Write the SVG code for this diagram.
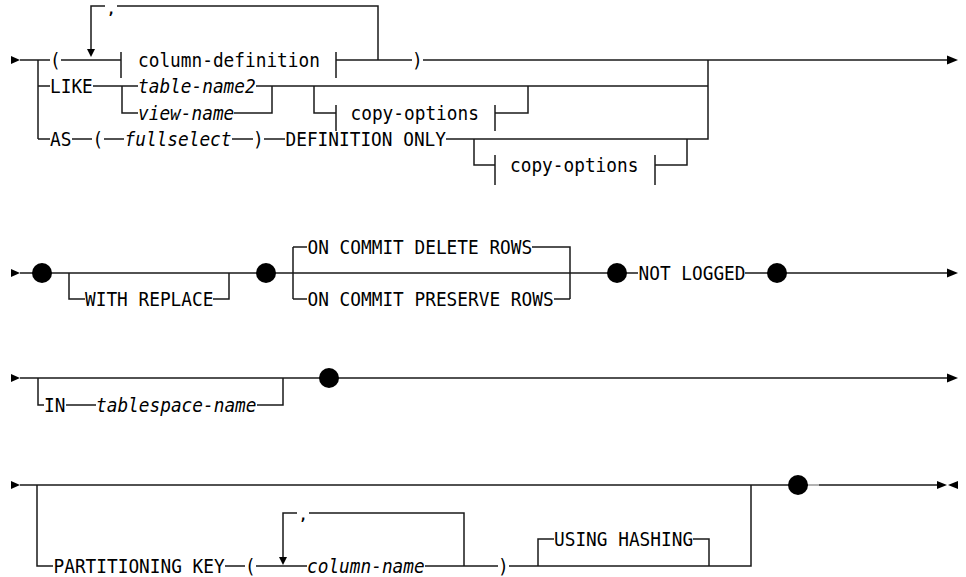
<svg xmlns="http://www.w3.org/2000/svg" xmlns:xlink="http://www.w3.org/1999/xlink" width="966" height="577" viewBox="0 0 966 577">
<style>
.t{font-family:"DejaVu Sans Mono","Liberation Mono",monospace;font-size:19.5px;fill:#000}
.c{font-family:"DejaVu Sans Mono","Liberation Mono",monospace;font-size:14px;font-weight:bold;fill:#000}
.i{font-style:italic}
.l{stroke:#1a1a1a;stroke-width:1.5;fill:none}
.g{stroke:#999;stroke-width:1.5;fill:none}
.k{fill:#000}
</style>
<defs>
<polygon id="sa" class="k" points="0,-4 9,0 0,4"/>
<polygon id="ea" class="k" points="-11,-4.5 0,0 -11,4.5"/>
<polygon id="da" class="k" points="-4,-8 4,-8 0,0"/>
<circle id="dot" class="k" r="10"/>
</defs>
<rect width="966" height="577" fill="#fff"/>

<g id="connectors">
<!-- row 1 -->
<path class="l" d="M20 60 H50 M61 60 H121 M38 60 V139 M38 86 H50 M38 139 H50"/>
<path class="l" d="M91 50 V6 H105 M117 6 H378 V60"/>
<path class="l" d="M336 60 H412 M423 60 H948"/>
<path class="l" d="M93 86 H138 M122 86 V113 H138 M256 86 H708 M234 113 H272 V86"/>
<path class="l" d="M314 86 V113 H336 M495 113 H528 V86"/>
<path class="l" d="M72 139 H92 M104 139 H124 M232 139 H253 M264 139 H285 M446 139 H708 V60"/>
<path class="l" d="M474 139 V165 H495 M655 165 H687 V139"/>
<use xlink:href="#sa" x="11" y="60"/>
<use xlink:href="#da" x="91" y="57"/>
<use xlink:href="#ea" x="958" y="60"/>
<!-- row 2 -->
<path class="l" d="M20 273 H638 M745 273 H948"/>
<path class="l" d="M69 273 V299 H85 M213 299 H229 V273"/>
<path class="l" d="M293 247 V299 M293 247 H307 M532 247 H570 V299 M293 299 H307 M554 299 H570"/>
<use xlink:href="#sa" x="11" y="273"/>
<use xlink:href="#ea" x="958" y="273"/>
<!-- row 3 -->
<path class="l" d="M20 378 H948 M38 378 V405 H44 M66 405 H96 M257 405 H283 V378"/>
<use xlink:href="#sa" x="11" y="378"/>
<use xlink:href="#ea" x="958" y="378"/>
<!-- row 4 -->
<path class="l" d="M20 485 H808 M819 485 H937"/>
<path class="g" d="M808 485 H819"/>
<path class="l" d="M37 485 V566 H53 M225 566 H245 M256 566 H307 M425 566 H498 M509 566 H751 V485"/>
<path class="l" d="M283 557 V513 H297 M309 513 H464 V566"/>
<path class="l" d="M538 566 V539 H554 M693 539 H709 V566"/>
<use xlink:href="#sa" x="11" y="485"/>
<use xlink:href="#da" x="283" y="565"/>
<polygon class="k" points="937,481 947,485 937,489"/>
<polygon class="k" points="958,481 948,485 958,489"/>
</g>

<g id="lparen1"><text class="t" x="50" y="67" textLength="10.7" lengthAdjust="spacingAndGlyphs">(</text></g>
<g id="comma1"><text class="c" x="107" y="13.5">,</text></g>
<g id="column-definition">
<path class="l" d="M121 52 V78 M336 52 V78"/>
<text class="t" x="138" y="67" textLength="181.9" lengthAdjust="spacingAndGlyphs">column-definition</text>
</g>
<g id="rparen1"><text class="t" x="412" y="67" textLength="10.7" lengthAdjust="spacingAndGlyphs">)</text></g>
<g id="like"><text class="t" x="50" y="93" textLength="42.8" lengthAdjust="spacingAndGlyphs">LIKE</text></g>
<g id="table-name2"><text class="t i" x="138" y="93" textLength="117.7" lengthAdjust="spacingAndGlyphs">table-name2</text></g>
<g id="view-name"><text class="t i" x="138" y="120" textLength="96.3" lengthAdjust="spacingAndGlyphs">view-name</text></g>
<g id="copy-options-1">
<path class="l" d="M336 105 V131 M495 105 V131"/>
<text class="t" x="350.5" y="120" textLength="128.4" lengthAdjust="spacingAndGlyphs">copy-options</text>
</g>
<g id="as"><text class="t" x="50" y="146" textLength="21.4" lengthAdjust="spacingAndGlyphs">AS</text></g>
<g id="lparen2"><text class="t" x="92.5" y="146" textLength="10.7" lengthAdjust="spacingAndGlyphs">(</text></g>
<g id="fullselect"><text class="t i" x="124.5" y="146" textLength="107" lengthAdjust="spacingAndGlyphs">fullselect</text></g>
<g id="rparen2"><text class="t" x="253" y="146" textLength="10.7" lengthAdjust="spacingAndGlyphs">)</text></g>
<g id="definition-only"><text class="t" x="285.5" y="146" textLength="160.5" lengthAdjust="spacingAndGlyphs">DEFINITION ONLY</text></g>
<g id="copy-options-2">
<path class="l" d="M495 155 V185 M655 155 V185"/>
<text class="t" x="510" y="172" textLength="128.4" lengthAdjust="spacingAndGlyphs">copy-options</text>
</g>

<g id="dot1"><use xlink:href="#dot" x="42" y="273"/></g>
<g id="with-replace"><text class="t" x="85" y="306" textLength="128.4" lengthAdjust="spacingAndGlyphs">WITH REPLACE</text></g>
<g id="dot2"><use xlink:href="#dot" x="266" y="273"/></g>
<g id="on-commit-delete"><text class="t" x="307.5" y="254" textLength="224.7" lengthAdjust="spacingAndGlyphs">ON COMMIT DELETE ROWS</text></g>
<g id="on-commit-preserve"><text class="t" x="307.5" y="306" textLength="246.1" lengthAdjust="spacingAndGlyphs">ON COMMIT PRESERVE ROWS</text></g>
<g id="dot3"><use xlink:href="#dot" x="617" y="273"/></g>
<g id="not-logged"><text class="t" x="638.5" y="280" textLength="107" lengthAdjust="spacingAndGlyphs">NOT LOGGED</text></g>
<g id="dot4"><use xlink:href="#dot" x="777" y="273"/></g>

<g id="in"><text class="t" x="44" y="412" textLength="21.4" lengthAdjust="spacingAndGlyphs">IN</text></g>
<g id="tablespace-name"><text class="t i" x="96" y="412" textLength="160.5" lengthAdjust="spacingAndGlyphs">tablespace-name</text></g>
<g id="dot5"><use xlink:href="#dot" x="329" y="378"/></g>

<g id="partitioning-key"><text class="t" x="53.5" y="573" textLength="171.2" lengthAdjust="spacingAndGlyphs">PARTITIONING KEY</text></g>
<g id="lparen3"><text class="t" x="245" y="573" textLength="10.7" lengthAdjust="spacingAndGlyphs">(</text></g>
<g id="comma2"><text class="c" x="299" y="520">,</text></g>
<g id="column-name"><text class="t i" x="307" y="573" textLength="117.7" lengthAdjust="spacingAndGlyphs">column-name</text></g>
<g id="rparen3"><text class="t" x="498" y="573" textLength="10.7" lengthAdjust="spacingAndGlyphs">)</text></g>
<g id="using-hashing"><text class="t" x="554" y="546" textLength="139.1" lengthAdjust="spacingAndGlyphs">USING HASHING</text></g>
<g id="dot6"><use xlink:href="#dot" x="798" y="485"/></g>
</svg>
